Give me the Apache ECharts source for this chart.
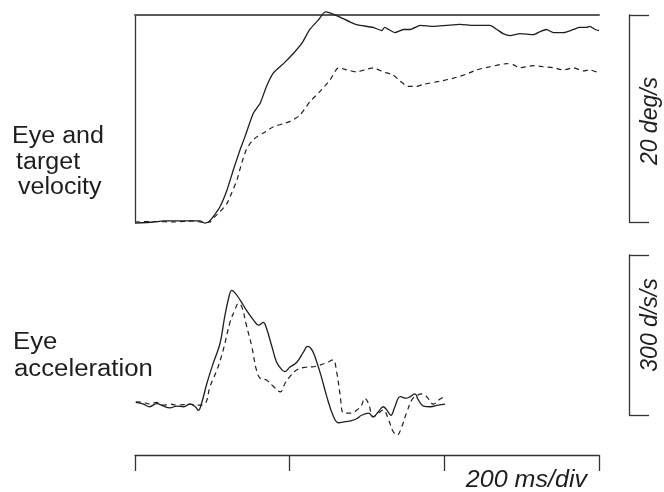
<!DOCTYPE html>
<html>
<head>
<meta charset="utf-8">
<script src="https://cdn.jsdelivr.net/npm/echarts@6/dist/echarts.min.js"></script>
<style>
html,body{margin:0;padding:0;background:#fff;}
#chart{width:664px;height:492px;}
</style>
</head>
<body>
<div id="chart"></div>
<script>
// ---- Data (time in ms, velocity in deg/s, acceleration in deg/s/s) ----
var velTimeSolid = [0,24,37,67,84,90,95,101,110,119,127,136,142,153,162,170,179,192,205,216,226,237,246,252,265,282,291,308,319,323,328,336,347,356,369,386,403,420,438,459,468,476,485,498,515,524,532,541,554,567,575,584,588,595,600];
var velSolid = [-0.1,0.0,0.1,0.1,0.1,-0.1,0.0,0.5,1.5,3.1,5.0,7.0,8.2,10.5,11.5,13.1,14.4,15.3,16.3,17.3,18.6,19.5,20.3,20.2,19.8,19.2,19.0,18.8,18.5,18.8,18.6,18.3,18.6,18.6,19.0,18.9,19.0,19.1,19.0,19.0,18.6,18.2,18.0,18.2,18.1,18.4,18.6,18.3,18.3,18.6,18.8,18.8,18.9,18.6,18.5];

var velTimeDashed = [0,25,50,75,90,97,103,110,119,125,132,138,144,151,157,166,179,192,200,213,226,239,252,263,274,287,297,308,321,334,343,353,364,373,394,412,429,442,459,481,489,498,515,528,541,554,567,580,588,597];
var velDashed = [0.0,0.05,0.0,0.1,-0.05,0.0,0.5,1.0,1.8,2.8,4.1,5.7,7.0,7.8,8.2,8.6,9.2,9.5,9.7,10.3,11.6,12.6,13.7,14.9,14.7,14.5,14.7,14.9,14.5,14.2,13.6,13.1,13.1,13.3,13.6,13.9,14.3,14.7,15.0,15.3,15.2,14.9,15.1,15.0,14.9,14.7,14.9,14.6,14.7,14.5];

var accTimeSolid = [1,11,19,28,37,45,54,63,71,78,82,86,93,101,110,116,121,125,129,136,144,153,160,166,170,177,183,190,194,200,209,218,223,229,235,241,248,256,263,272,280,287,293,302,308,315,321,325,331,336,343,351,356,362,366,373,382,392,401];
var accSolid = [1,-2,-7,-1,-6,-9,-6,-7,-2,-7,-14,-1,37,74,112,162,196,211,207,193,174,156,146,151,140,106,77,62,59,67,76,96,106,99,77,49,12,-23,-37,-35,-33,-29,-23,-19,-26,-16,-7,-12,-23,-7,12,9,12,17,7,-6,-7,-4,-2];

var accTimeDashed = [1,11,19,28,37,45,54,63,71,80,86,92,97,106,114,123,129,134,138,144,151,157,162,170,179,188,194,200,209,220,231,239,250,256,261,265,270,278,287,293,297,302,308,315,321,328,334,339,345,351,358,362,371,377,386,394,400];
var accDashed = [2,1,-2,1,-4,-2,-4,-3,-2,-4,-4,2,31,62,99,152,174,187,181,146,106,62,46,43,31,21,37,49,62,67,68,71,77,81,56,18,-19,-19,-13,-4,9,-1,-26,-19,-13,-32,-54,-60,-44,-19,6,12,17,12,-2,7,12];

// scale-bar and time-axis settings
var timeRange = [0, 600];
var timeDivision = 200;
var velScale = [0, 20];
var accScale = [0, 300];

var labelLines = {
  velocity: ['Eye and', 'target', 'velocity'],
  accel: ['Eye', 'acceleration'],
  timeUnit: '200 ms/div',
  velUnit: '20 deg/s',
  accUnit: '300 d/s/s'
};

function zip(t, v) { return t.map(function (x, i) { return [x, v[i]]; }); }

var FONT = '"Liberation Sans", Arial, Helvetica, sans-serif';
var INK = '#1e1e1e';
var AX = '#333';

var chart = echarts.init(document.getElementById('chart'), null, {renderer: 'canvas'});

function txt(text, x, y, opts) {
  opts = opts || {};
  return {
    type: 'text', x: x, y: y,
    rotation: opts.rotation || 0,
    scaleX: opts.scaleX || 1,
    style: {
      text: text, fill: INK,
      font: (opts.italic ? 'italic ' : '') + (opts.size || 23) + 'px ' + FONT,
      textAlign: opts.align || 'left',
      textVerticalAlign: 'middle',
      verticalAlign: 'middle'
    }
  };
}

var SX = 1.09;

var option = {
  animation: false,
  backgroundColor: '#fff',
  grid: [
    {left: 135, top: 15, width: 464, height: 207},
    {left: 135, top: 243, width: 464, height: 200},
    {left: 600, top: 255, width: 29, height: 160}
  ],
  xAxis: [
    {gridIndex: 0, type: 'value', min: timeRange[0], max: timeRange[1], position: 'top',
     axisLine: {show: true, onZero: false, lineStyle: {color: '#5a5a5a', width: 2}},
     axisTick: {show: false}, axisLabel: {show: false}, splitLine: {show: false}},
    {gridIndex: 1, type: 'value', min: timeRange[0], max: timeRange[1], interval: timeDivision,
     position: 'bottom', offset: 12,
     axisLine: {show: true, onZero: false, lineStyle: {color: AX, width: 1.3}},
     axisTick: {show: true, inside: false, length: 16, lineStyle: {color: AX, width: 1.3}},
     axisLabel: {show: false}, splitLine: {show: false}},
    {gridIndex: 2, type: 'value', min: 0, max: 1, show: false}
  ],
  yAxis: [
    {gridIndex: 0, type: 'value', min: velScale[0], max: velScale[1], position: 'left',
     axisLine: {show: true, onZero: false, lineStyle: {color: AX, width: 1.3}},
     axisTick: {show: false}, axisLabel: {show: false}, splitLine: {show: false}},
    {gridIndex: 0, type: 'value', min: velScale[0], max: velScale[1], interval: velScale[1] - velScale[0],
     position: 'right', offset: 30,
     axisLine: {show: true, onZero: false, lineStyle: {color: AX, width: 1.3}},
     axisTick: {show: true, inside: false, length: 20, lineStyle: {color: AX, width: 1.3}},
     axisLabel: {show: false}, splitLine: {show: false}},
    {gridIndex: 1, type: 'value', min: -75, max: 300, show: false},
    {gridIndex: 2, type: 'value', min: accScale[0], max: accScale[1], interval: accScale[1] - accScale[0],
     position: 'right',
     axisLine: {show: true, onZero: false, lineStyle: {color: AX, width: 1.3}},
     axisTick: {show: true, inside: false, length: 20, lineStyle: {color: AX, width: 1.3}},
     axisLabel: {show: false}, splitLine: {show: false}}
  ],
  series: [
    {type: 'line', name: 'velocity solid', xAxisIndex: 0, yAxisIndex: 0, data: zip(velTimeSolid, velSolid),
     symbol: 'none', clip: false, smooth: 0.2, lineStyle: {color: INK, width: 1.3}},
    {type: 'line', name: 'velocity dashed', xAxisIndex: 0, yAxisIndex: 0, data: zip(velTimeDashed, velDashed),
     symbol: 'none', clip: false, smooth: 0.2, lineStyle: {color: INK, width: 1.2, type: [5, 4]}},
    {type: 'line', name: 'acceleration solid', xAxisIndex: 1, yAxisIndex: 2, data: zip(accTimeSolid, accSolid),
     symbol: 'none', clip: false, smooth: 0.4, lineStyle: {color: INK, width: 1.3}},
    {type: 'line', name: 'acceleration dashed', xAxisIndex: 1, yAxisIndex: 2, data: zip(accTimeDashed, accDashed),
     symbol: 'none', clip: false, smooth: 0.4, lineStyle: {color: INK, width: 1.2, type: [5, 4]}}
  ],
  graphic: [
    txt(labelLines.velocity[0], 12, 137, {scaleX: SX}),
    txt(labelLines.velocity[1], 16, 163, {scaleX: SX}),
    txt(labelLines.velocity[2], 18, 188, {scaleX: SX}),
    txt(labelLines.accel[0], 13, 343, {scaleX: 1.12}),
    txt(labelLines.accel[1], 14, 370, {scaleX: 1.12}),
    txt(labelLines.timeUnit, 587, 481, {italic: true, align: 'right', scaleX: SX}),
    txt(labelLines.velUnit, 651, 121, {italic: true, align: 'center', rotation: Math.PI / 2}),
    txt(labelLines.accUnit, 651, 325, {italic: true, align: 'center', rotation: Math.PI / 2})
  ]
};
chart.setOption(option);
</script>
</body>
</html>
